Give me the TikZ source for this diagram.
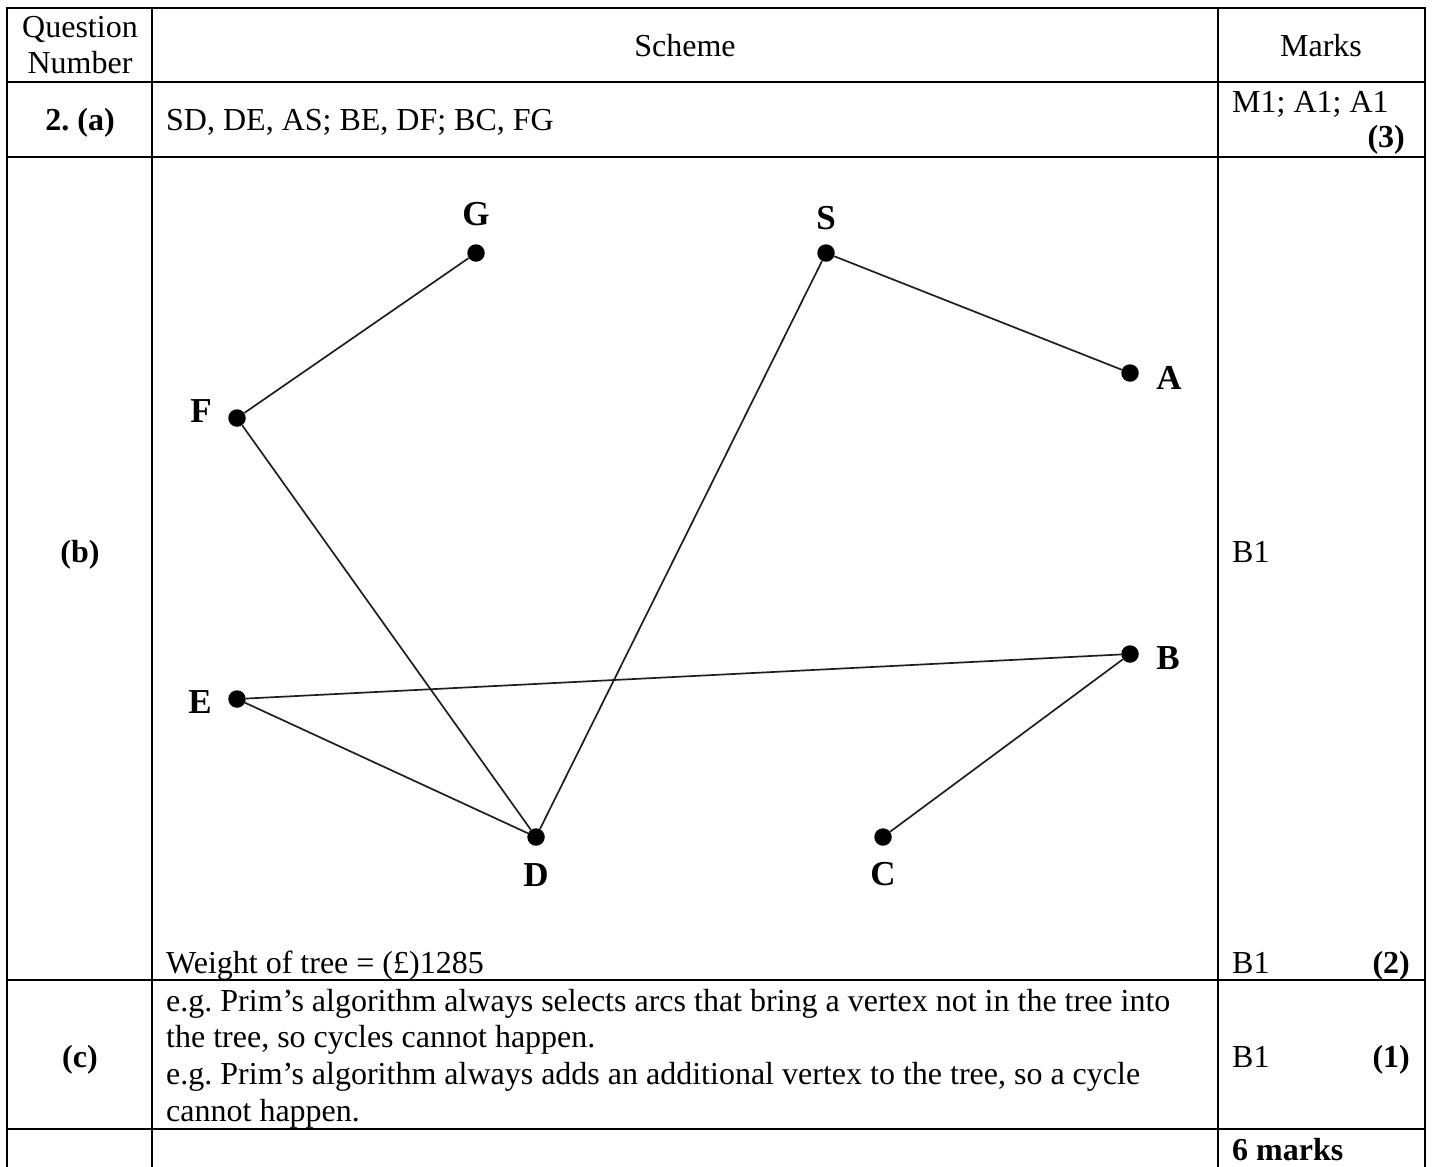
\documentclass[tikz,border=0pt]{standalone}
\usepackage{fontspec}
\setmainfont{Liberation Serif}
\frenchspacing
\begin{document}
\begin{tikzpicture}[x=1pt,y=-1pt,
  grid/.style={line width=2pt,black},
  txt/.style={inner sep=0pt,font=\fontsize{32}{36.8}\selectfont},
  btxt/.style={txt,font=\fontsize{32}{36.8}\selectfont\bfseries},
  vtx/.style={circle,fill=black,inner sep=0pt,minimum size=17.5pt},
  vlab/.style={inner sep=0pt,anchor=base,font=\fontsize{35}{40}\selectfont\bfseries},
  arc/.style={line width=1.7pt,black!88}]
\useasboundingbox (0,0) rectangle (1432,1167);
% table
\draw[grid] (7,8) -- (1425,8);
\draw[grid] (7,82) -- (1425,82);
\draw[grid] (7,157) -- (1425,157);
\draw[grid] (7,980) -- (1425,980);
\draw[grid] (7,1129) -- (1425,1129);
\draw[grid] (7,7) -- (7,1167);
\draw[grid] (152,7) -- (152,1167);
\draw[grid] (1218,7) -- (1218,1167);
\draw[grid] (1425,7) -- (1425,1167);
% header
\node[txt,anchor=base] (q1) at (80,37) {Question};
\node[txt,anchor=base] (q2) at (80,73) {Number};
\node[txt,anchor=base] (sch) at (685,56) {Scheme};
\node[txt,anchor=base] (mk) at (1321,56) {Marks};
% row a
\node[btxt,anchor=base] (la) at (80,130) {2. (a)};
\node[txt,anchor=base west] (ta) at (166,130) {SD, DE, AS; BE, DF; BC, FG};
\node[txt,anchor=base west] (ma) at (1232,112) {M1; A1; A1};
\node[btxt,anchor=base east] (pa) at (1405,147) {(3)};
% row b
\node[btxt,anchor=base] (lb) at (80,562) {(b)};
\node[txt,anchor=base west] (mb) at (1232,562) {B1};
\node[txt,anchor=base west] (wt) at (166,973) {Weight of tree = (£)1285};
\node[txt,anchor=base west] (mb2) at (1232,973) {B1};
\node[btxt,anchor=base east] (pb) at (1410,973) {(2)};
% row c
\node[btxt,anchor=base] (lc) at (80,1067) {(c)};
\node[txt,anchor=base west] (c1) at (166,1011) {e.g. Prim’s algorithm always selects arcs that bring a vertex not in the tree into};
\node[txt,anchor=base west] (c2) at (166,1047.8) {the tree, so cycles cannot happen.};
\node[txt,anchor=base west] (c3) at (166,1084.6) {e.g. Prim’s algorithm always adds an additional vertex to the tree, so a cycle};
\node[txt,anchor=base west] (c4) at (166,1121.4) {cannot happen.};
\node[txt,anchor=base west] (mc) at (1232,1067) {B1};
\node[btxt,anchor=base east] (pc) at (1410,1067) {(1)};
% total
\node[btxt,anchor=base west] (tot) at (1232,1160) {6 marks};
% graph
\node[vtx] (G) at (476,253) {};
\node[vtx] (S) at (826,253) {};
\node[vtx] (F) at (237,418) {};
\node[vtx] (A) at (1130,373) {};
\node[vtx] (E) at (237,699) {};
\node[vtx] (B) at (1130,654) {};
\node[vtx] (D) at (536,837) {};
\node[vtx] (C) at (883,837) {};
\node[vlab] (lG) at (476,225) {G};
\node[vlab] (lS) at (826,229) {S};
\node[vlab] (lF) at (201,422) {F};
\node[vlab] (lA) at (1169,389) {A};
\node[vlab] (lE) at (200,713) {E};
\node[vlab] (lB) at (1168,669) {B};
\node[vlab] (lD) at (536,886) {D};
\node[vlab] (lC) at (883,885) {C};
\draw[arc] (S) -- (D);
\draw[arc] (D) -- (E);
\draw[arc] (A) -- (S);
\draw[arc] (B) -- (E);
\draw[arc] (D) -- (F);
\draw[arc] (B) -- (C);
\draw[arc] (F) -- (G);
\end{tikzpicture}
\end{document}
